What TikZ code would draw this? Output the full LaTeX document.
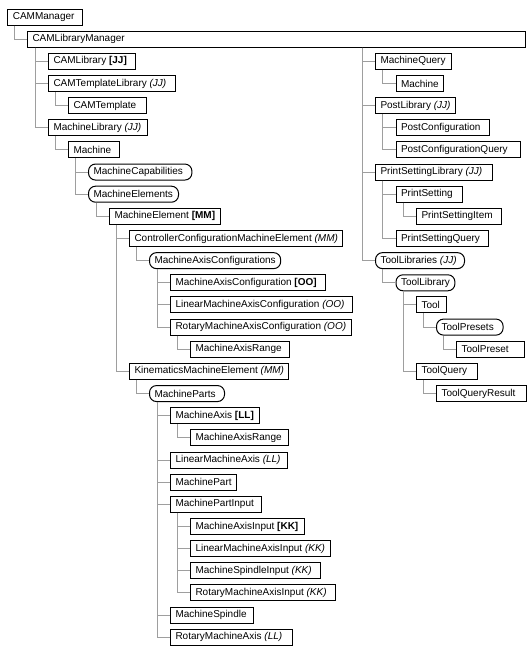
\documentclass[tikz,border=0pt]{standalone}
\usepackage{fontspec}
\setmainfont{Liberation Sans}
\newsavebox\fitbox
\newcommand\fitw[2]{\sbox\fitbox{#2}\ifdim\wd\fitbox<\dimexpr#1pt-10pt\relax\makebox[\dimexpr#1pt-10pt\relax][l]{\usebox\fitbox}\else\usebox\fitbox\fi}
\begin{document}
\begin{tikzpicture}[x=1pt, y=-22.15pt,
  box/.style={draw=black, line width=1pt, fill=white, anchor=west,
    minimum height=16pt, inner xsep=5pt, inner ysep=0pt,
    font=\fontsize{10}{12}\selectfont},
  rbox/.style={box, rounded corners=7pt},
  conn/.style={draw=black!38, line width=1pt}]
\useasboundingbox (0,-0.7675) rectangle (528,28.668);
% left column
\node[box] (cm) at (7.3,0) {\fitw{74.4}{CAMManager}};
\node[box, text width=488pt, align=left] (clm) at (27,1) {CAMLibraryManager};
\node[box] (cl) at (48,2) {\fitw{86.6}{CAMLibrary \textbf{[JJ]}}};
\node[box] (ctl) at (48,3) {\fitw{127.3}{CAMTemplateLibrary \textit{(JJ)}}};
\node[box] (ct) at (68,4) {\fitw{78.4}{CAMTemplate}};
\node[box] (ml) at (48,5) {\fitw{99}{MachineLibrary \textit{(JJ)}}};
\node[box] (m) at (68,6) {\fitw{50.7}{Machine}};
\node[rbox] (mcap) at (88,7) {\fitw{103.4}{MachineCapabilities}};
\node[rbox] (mels) at (88,8) {\fitw{90}{MachineElements}};
\node[box] (mel) at (109,9) {\fitw{110.3}{MachineElement \textbf{[MM]}}};
\node[box] (ccme) at (129,10) {\fitw{211.4}{ControllerConfigurationMachineElement \textit{(MM)}}};
\node[rbox] (macs) at (149,11) {\fitw{127.4}{MachineAxisConfigurations}};
\node[box] (mac) at (170,12) {\fitw{155}{MachineAxisConfiguration \textbf{[OO]}}};
\node[box] (lmac) at (170,13) {\fitw{181.7}{LinearMachineAxisConfiguration \textit{(OO)}}};
\node[box] (rmac) at (170,14) {\fitw{180}{RotaryMachineAxisConfiguration \textit{(OO)}}};
\node[box] (mara) at (190,15) {\fitw{99}{MachineAxisRange}};
\node[box] (kme) at (129,16) {\fitw{157.4}{KinematicsMachineElement \textit{(MM)}}};
\node[rbox] (mps) at (149,17) {\fitw{75}{MachineParts}};
\node[box] (ma) at (170,18) {\fitw{89.3}{MachineAxis \textbf{[LL]}}};
\node[box] (marb) at (190,19) {\fitw{98.3}{MachineAxisRange}};
\node[box] (lma) at (170,20) {\fitw{116.7}{LinearMachineAxis \textit{(LL)}}};
\node[box] (mp) at (170,21) {\fitw{62.7}{MachinePart}};
\node[box] (mpi) at (170,22) {\fitw{90.7}{MachinePartInput}};
\node[box] (mai) at (190,23) {\fitw{114.3}{MachineAxisInput \textbf{[KK]}}};
\node[box] (lmai) at (190,24) {\fitw{137.3}{LinearMachineAxisInput \textit{(KK)}}};
\node[box] (msi) at (190,25) {\fitw{130}{MachineSpindleInput \textit{(KK)}}};
\node[box] (rmai) at (190,26) {\fitw{145}{RotaryMachineAxisInput \textit{(KK)}}};
\node[box] (ms) at (170,27) {\fitw{83.3}{MachineSpindle}};
\node[box] (rma) at (170,28) {\fitw{121.7}{RotaryMachineAxis \textit{(LL)}}};
% right column
\node[box] (mq) at (375,2) {\fitw{76}{MachineQuery}};
\node[box] (mqm) at (395.5,3) {\fitw{46.7}{Machine}};
\node[box] (pl) at (375,4) {\fitw{76}{PostLibrary \textit{(JJ)}}};
\node[box] (pc) at (395.5,5) {\fitw{93.3}{PostConfiguration}};
\node[box] (pcq) at (395.5,6) {\fitw{124}{PostConfigurationQuery}};
\node[box] (psl) at (375,7) {\fitw{116.7}{PrintSettingLibrary \textit{(JJ)}}};
\node[box] (ps) at (395.5,8) {\fitw{66.7}{PrintSetting}};
\node[box] (psi) at (416,9) {\fitw{85}{PrintSettingItem}};
\node[box] (psq) at (395.5,10) {\fitw{92.6}{PrintSettingQuery}};
\node[rbox] (tls) at (375,11) {\fitw{89}{ToolLibraries \textit{(JJ)}}};
\node[rbox] (tl) at (395.5,12) {\fitw{57.6}{ToolLibrary}};
\node[box] (t) at (416,13) {\fitw{30}{Tool}};
\node[rbox] (tps) at (436,14) {\fitw{66.6}{ToolPresets}};
\node[box] (tp) at (456,15) {\fitw{68}{ToolPreset}};
\node[box] (tq) at (416,16) {\fitw{61.3}{ToolQuery}};
\node[box] (tqr) at (436,17) {\fitw{89.7}{ToolQueryResult}};
% connectors
\foreach \p/\c in {cm/clm, clm/cl, clm/ctl, clm/ml, ctl/ct, ml/m, m/mcap, m/mels,
  mels/mel, mel/ccme, mel/kme, ccme/macs, macs/mac, macs/lmac, macs/rmac, rmac/mara,
  kme/mps, mps/ma, mps/lma, mps/mp, mps/mpi, mps/ms, mps/rma, ma/marb,
  mpi/mai, mpi/lmai, mpi/msi, mpi/rmai,
  clm/mq, clm/pl, clm/psl, clm/tls, mq/mqm, pl/pc, pl/pcq, psl/ps, psl/psq, ps/psi,
  tls/tl, tl/t, tl/tq, t/tps, tps/tp, tq/tqr}
  \draw[conn] ([xshift=-13pt]\c.west |- \p.south) |- (\c.west);
\end{tikzpicture}
\end{document}
